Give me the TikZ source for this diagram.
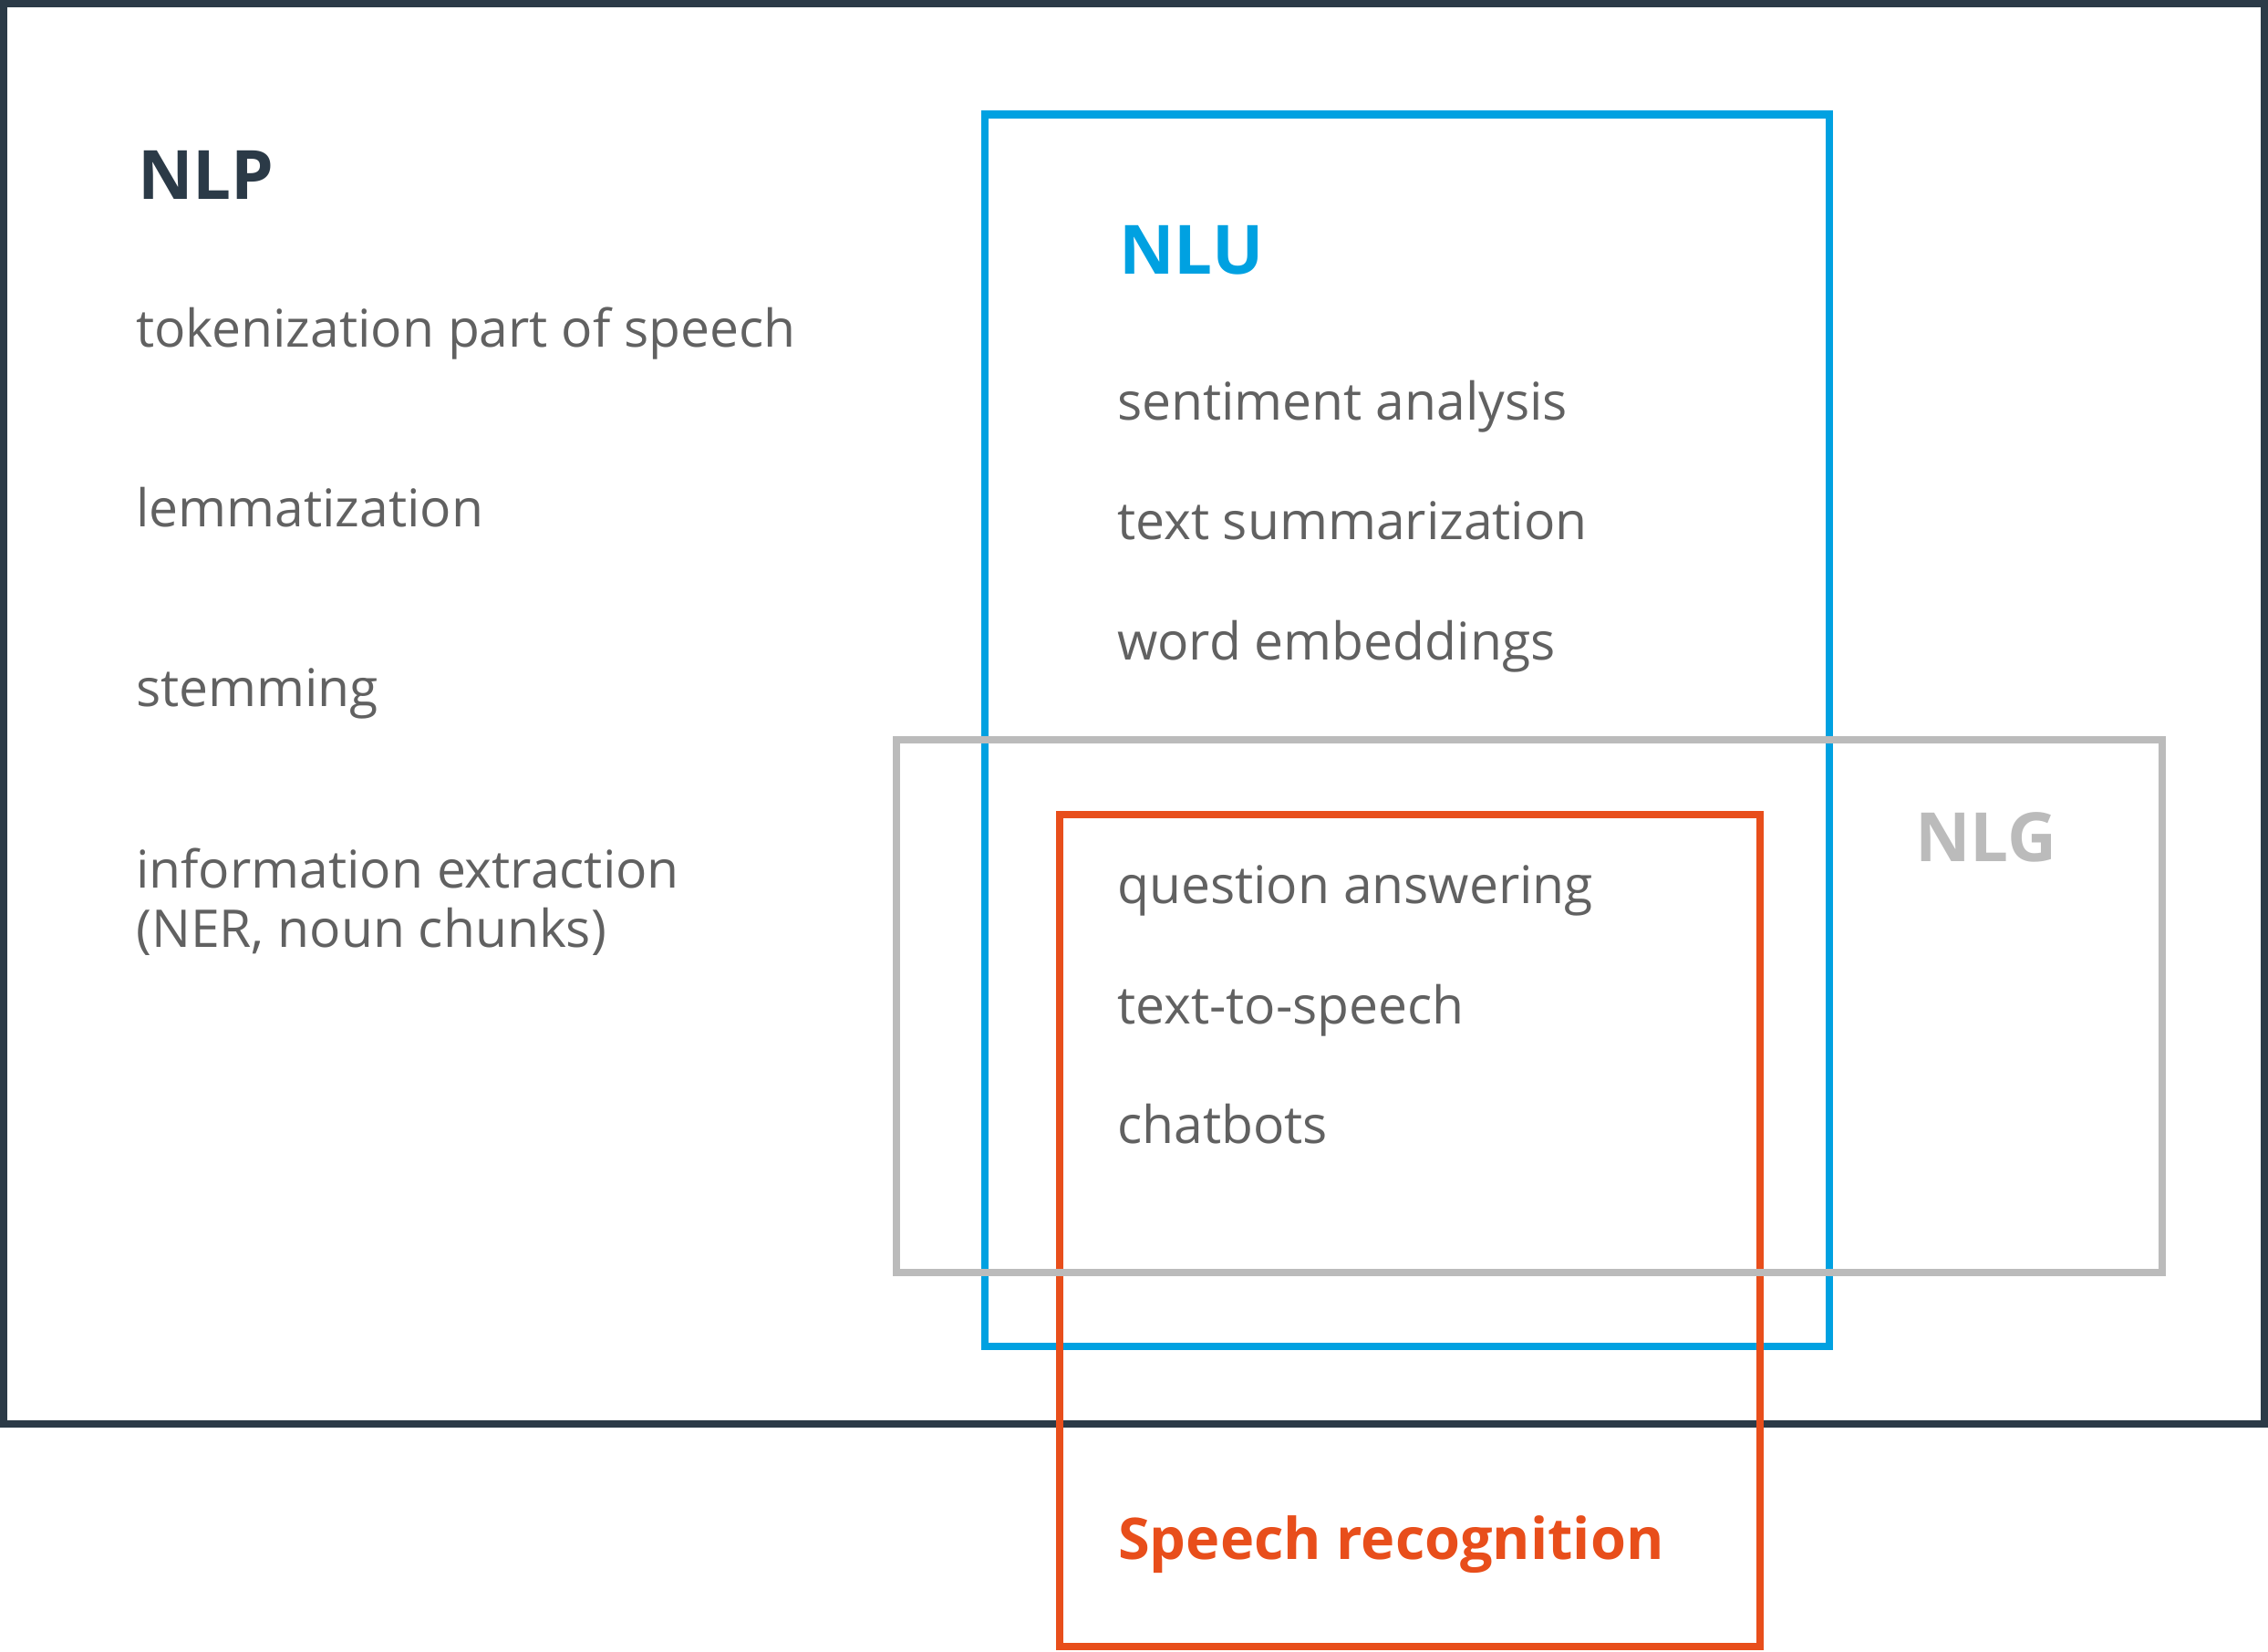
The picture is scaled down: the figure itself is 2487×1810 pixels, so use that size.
\documentclass[tikz,border=0pt]{standalone}
\usepackage{fontspec}
\setmainfont{Open Sans}
\definecolor{nlpdark}{HTML}{2B3A47}
\definecolor{nlublue}{HTML}{00A1E1}
\definecolor{nlggray}{HTML}{BBBBBB}
\definecolor{srorange}{HTML}{E84E1B}
\definecolor{txtgray}{HTML}{616161}
\tikzset{
  frame/.style={line width=8.5pt, line join=miter},
  head/.style={anchor=base west, inner sep=0pt, font=\fontsize{74.5}{80}\selectfont\bfseries},
  item/.style={anchor=base west, inner sep=0pt, text=txtgray, font=\fontsize{57}{65}\selectfont},
}
\begin{document}
\begin{tikzpicture}[x=1pt, y=-1pt]
\useasboundingbox (0,0) rectangle (2487,1810);
% boxes
\draw[frame, nlpdark] (4,4) rectangle (2483,1561);
\draw[frame, nlublue] (1080,125.5) rectangle (2006,1476);
\draw[frame, srorange] (1162,893) rectangle (1930,1805);
\draw[frame, nlggray] (983,811) rectangle (2371,1395);
% headings
\node[head, text=nlpdark] (nlp) at (151,218) {NLP};
\node[head, text=nlublue] (nlu) at (1227,300) {NLU};
\node[head, text=nlggray] (nlg) at (2100,944) {NLG};
\node[head, text=srorange, font=\fontsize{63}{70}\selectfont\bfseries] (sr) at (1226,1709) {Speech recognition};
% NLP items
\node[item] (tok) at (149,380) {tokenization part of speech};
\node[item] (lem) at (149,577) {lemmatization};
\node[item] (stem) at (149,774) {stemming};
\node[item, align=left] (ie) at (149,1038) {information extraction\\(NER, noun chunks)};
% NLU items
\node[item] (sa) at (1225,460) {sentiment analysis};
\node[item] (ts) at (1225,591.5) {text summarization};
\node[item] (we) at (1225,723) {word embeddings};
% overlap items
\node[item] (qa) at (1225,990) {question answering};
\node[item] (tts) at (1225,1122) {text-to-speech};
\node[item] (cb) at (1225,1253) {chatbots};
\end{tikzpicture}
\end{document}
